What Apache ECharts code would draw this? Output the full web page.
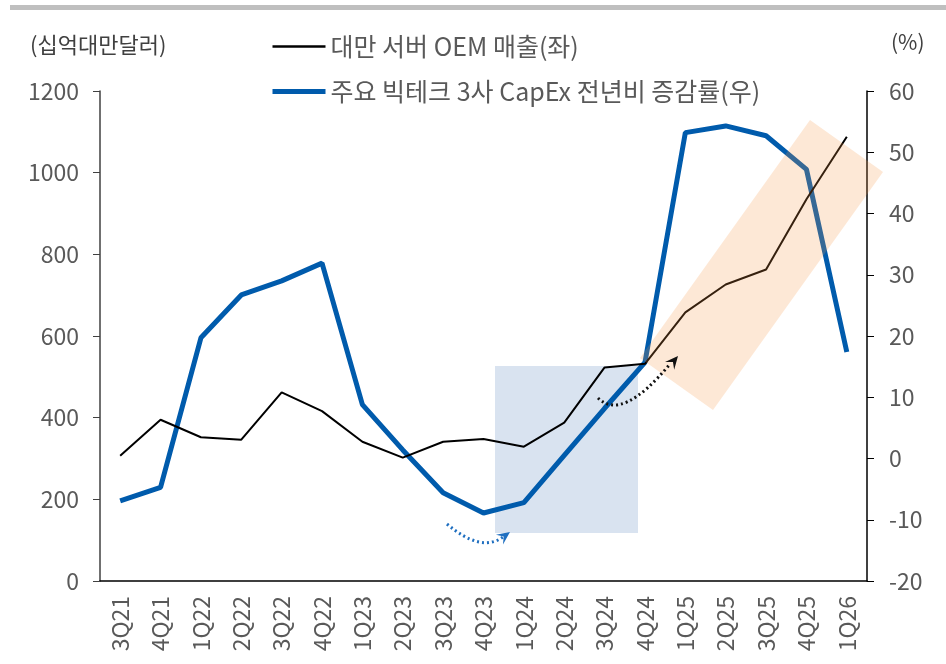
<!DOCTYPE html>
<html>
<head>
<meta charset="utf-8">
<script src="https://cdn.jsdelivr.net/npm/echarts@6/dist/echarts.min.js"></script>
<style>
html, body { margin: 0; padding: 0; background: #fff; }
#chart { width: 946px; height: 664px; }
</style>
</head>
<body>
<div id="chart"></div>
<script>
// 분기
const quarters = ['3Q21', '4Q21', '1Q22', '2Q22', '3Q22', '4Q22', '1Q23', '2Q23', '3Q23', '4Q23',
  '1Q24', '2Q24', '3Q24', '4Q24', '1Q25', '2Q25', '3Q25', '4Q25', '1Q26'];
// 대만 서버 OEM 매출 (십억대만달러, 좌축)
const oemSales = [307, 395, 352, 346, 462, 416, 341, 302, 341, 348, 329, 388, 523, 532, 658, 726, 763, 935, 1088];
// 주요 빅테크 3사 CapEx 전년비 증감률 (%, 우축)
const capexGrowth = [-6.9, -4.7, 19.7, 26.7, 29.0, 31.9, 8.8, 1.4, -5.6, -8.9, -7.2, 0.5, 8.2, 15.7, 53.2, 54.3, 52.7, 47.2, 17.4];
// 축 눈금
const leftTicks = { min: 0, max: 1200, interval: 200 };
const rightTicks = { min: -20, max: 60, interval: 10 };

const font = 'Noto Sans CJK KR';
const gray = '#595959';

// 화살촉 삼각형
function arrowHead(tip, from, len, half) {
  const dx = tip[0] - from[0], dy = tip[1] - from[1];
  const d = Math.sqrt(dx * dx + dy * dy);
  const ux = dx / d, uy = dy / d;
  const bx = tip[0] - ux * len, by = tip[1] - uy * len;
  return [tip, [bx - uy * half, by + ux * half], [tip[0] - ux * len * 0.6, tip[1] - uy * len * 0.6], [bx + uy * half, by - ux * half]];
}

const chart = echarts.init(document.getElementById('chart'));

const option = {
  animation: false,
  textStyle: { fontFamily: font },
  grid: { left: 100, right: 79, top: 91, bottom: 83 },
  legend: {
    left: 265,
    top: 29,
    orient: 'vertical',
    itemWidth: 53,
    itemHeight: 14,
    itemGap: 20,
    itemStyle: { opacity: 0 },
    textStyle: { fontSize: 25, color: gray, fontFamily: font },
    data: [
      { name: '대만 서버 OEM 매출(좌)', lineStyle: { width: 2.5, color: '#000' } },
      { name: '주요 빅테크 3사 CapEx 전년비 증감률(우)', lineStyle: { width: 5, color: '#005bac' } }
    ]
  },
  xAxis: {
    type: 'category',
    data: quarters,
    boundaryGap: true,
    axisLine: { lineStyle: { color: '#000', width: 1.5 } },
    axisTick: { show: false },
    axisLabel: { rotate: 90, margin: 15, fontSize: 23, color: gray }
  },
  yAxis: [
    {
      type: 'value',
      min: leftTicks.min,
      max: leftTicks.max,
      interval: leftTicks.interval,
      splitLine: { show: false },
      axisLine: { show: true, lineStyle: { color: '#404040', width: 1.5 } },
      axisTick: { show: true, length: 7, lineStyle: { color: '#404040' } },
      axisLabel: { fontSize: 23, color: gray, margin: 21, formatter: v => String(v) }
    },
    {
      type: 'value',
      min: rightTicks.min,
      max: rightTicks.max,
      interval: rightTicks.interval,
      splitLine: { show: false },
      axisLine: { show: true, lineStyle: { color: '#000', width: 1.5 } },
      axisTick: { show: true, length: 7, lineStyle: { color: '#000' } },
      axisLabel: { fontSize: 23, color: gray, margin: 22 }
    }
  ],
  series: [
    {
      name: '대만 서버 OEM 매출(좌)',
      type: 'line',
      yAxisIndex: 0,
      data: oemSales,
      symbol: 'none',
      z: 3,
      lineStyle: { color: '#000', width: 2 },
      itemStyle: { color: '#000' }
    },
    {
      name: '주요 빅테크 3사 CapEx 전년비 증감률(우)',
      type: 'line',
      yAxisIndex: 1,
      data: capexGrowth,
      symbol: 'none',
      z: 2,
      lineStyle: { color: '#005bac', width: 5 },
      itemStyle: { color: '#005bac' }
    }
  ],
  graphic: [
    // 상단 회색 바
    { type: 'rect', shape: { x: 10, y: 5, width: 936, height: 5 }, style: { fill: '#bfbfbf' }, z: 0 },
    { type: 'text', x: 30, y: 45, style: { text: '(십억대만달러)', font: '22px "Noto Sans CJK KR"', fill: '#404040', verticalAlign: 'middle' } },
    { type: 'text', x: 891, y: 42, style: { text: '(%)', font: '21px "Noto Sans CJK KR"', fill: '#404040', verticalAlign: 'middle' } },
    // 파란 음영 박스
    { type: 'rect', shape: { x: 495, y: 366, width: 143, height: 167 }, style: { fill: '#d9e3f0' }, z: 0 },
    // 주황 음영 (기울어진 박스)
    { type: 'polygon', shape: { points: [[810, 120], [883, 172], [713, 410], [640, 358]] }, style: { fill: 'rgba(247,150,70,0.22)' }, z: 50 },
    // 파란 점선 화살표
    { type: 'bezierCurve', shape: { x1: 447, y1: 524, cpx1: 481, cpy1: 553, x2: 503, y2: 537 },
      style: { stroke: '#1f6fc0', lineWidth: 3, lineDash: [2, 3], fill: null }, z: 50 },
    { type: 'polygon', shape: { points: arrowHead([510, 532], [481, 553], 13, 6) }, style: { fill: '#1f6fc0' }, z: 50 },
    // 검은 점선 화살표
    { type: 'bezierCurve', shape: { x1: 598, y1: 398, cpx1: 622, cpy1: 422, x2: 670, y2: 364 },
      style: { stroke: '#111', lineWidth: 3, lineDash: [2, 3], fill: null }, z: 50 },
    { type: 'polygon', shape: { points: arrowHead([678, 356], [622, 422], 13, 6) }, style: { fill: '#111' }, z: 50 }
  ]
};

option && chart.setOption(option);
</script>
</body>
</html>
